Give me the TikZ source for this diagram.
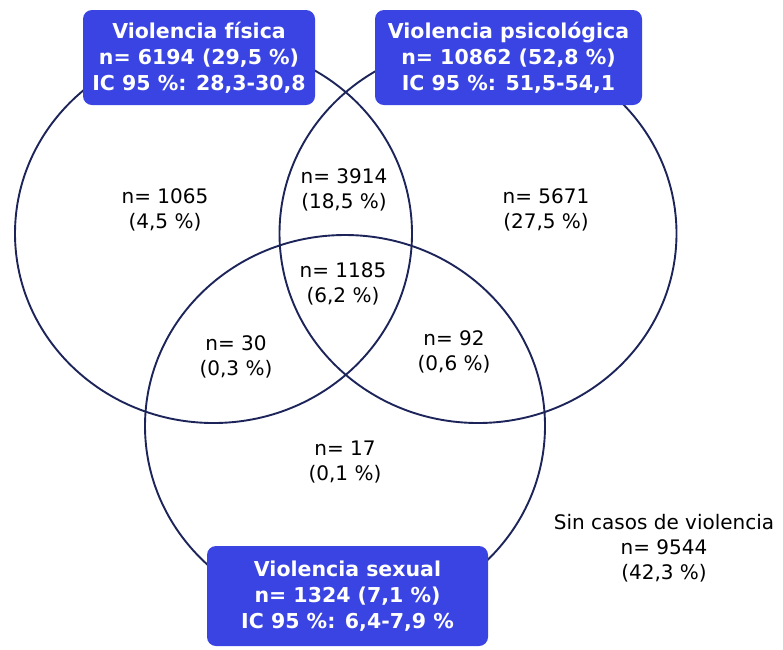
\documentclass[tikz,border=0pt]{standalone}
\usepackage{fontspec}
\setmainfont{DejaVu Sans}
\usepackage{tikz}
\usetikzlibrary{positioning}
\definecolor{vennblue}{RGB}{58,68,226}
\definecolor{vennline}{RGB}{28,36,90}
\tikzset{font={\fontsize{20}{25}\selectfont}}
\tikzset{
	set_line/.style={draw=vennline, line width=1.9pt},
	title_box/.style={rectangle, rounded corners=9pt, fill=vennblue, text=white, align=center, inner sep=0pt, font={\fontsize{20.5}{26}\selectfont\bfseries}},
	count/.style={align=center, inner sep=0pt}
}

\begin{document}
\begin{tikzpicture}[x=1pt, y=-1pt]

	\useasboundingbox (0,0) rectangle (783,649);

	% set centres
	\coordinate (fisica_c) at (213.5,233.5);
	\coordinate (psico_c) at (478,233.5);
	\coordinate (sexual_c) at (345,426);

	\draw[set_line] (fisica_c) ellipse [x radius=198.5, y radius=189.5];

	\draw[set_line] (psico_c) ellipse [x radius=198.5, y radius=189.5];

	\draw[set_line] (sexual_c) ellipse [x radius=200, y radius=191];

	% titles
	\node (fisica_box) [title_box, minimum width=232, minimum height=95] at (199,57.5)
		{Violencia física\\n= 6194 (29,5 \%)\\IC 95 \%: 28,3-30,8};

	\node (psico_box) [title_box, minimum width=267, minimum height=95] at (508.5,57.5)
		{Violencia psicológica\\n= 10862 (52,8 \%)\\IC 95 \%: 51,5-54,1};

	\node (sexual_box) [title_box, minimum width=281, minimum height=100] at (347.5,596)
		{Violencia sexual\\n= 1324 (7,1 \%)\\IC 95 \%: 6,4-7,9 \%};

	% counts
	\node (n_fisica) [count] at (165,210) {n= 1065\\(4,5 \%)};

	\node (n_fis_psi) [count] at (344,190) {n= 3914\\(18,5 \%)};

	\node (n_psico) [count] at (546,210) {n= 5671\\(27,5 \%)};

	\node (n_todas) [count] at (343,284) {n= 1185\\(6,2 \%)};

	\node (n_fis_sex) [count] at (236,357) {n= 30\\(0,3 \%)};

	\node (n_psi_sex) [count] at (454,352) {n= 92\\(0,6 \%)};

	\node (n_sexual) [count] at (345,462) {n= 17\\(0,1 \%)};

	\node (n_ninguna) [count] at (664,548) {Sin casos de violencia\\n= 9544\\(42,3 \%)};

\end{tikzpicture}
\end{document}
